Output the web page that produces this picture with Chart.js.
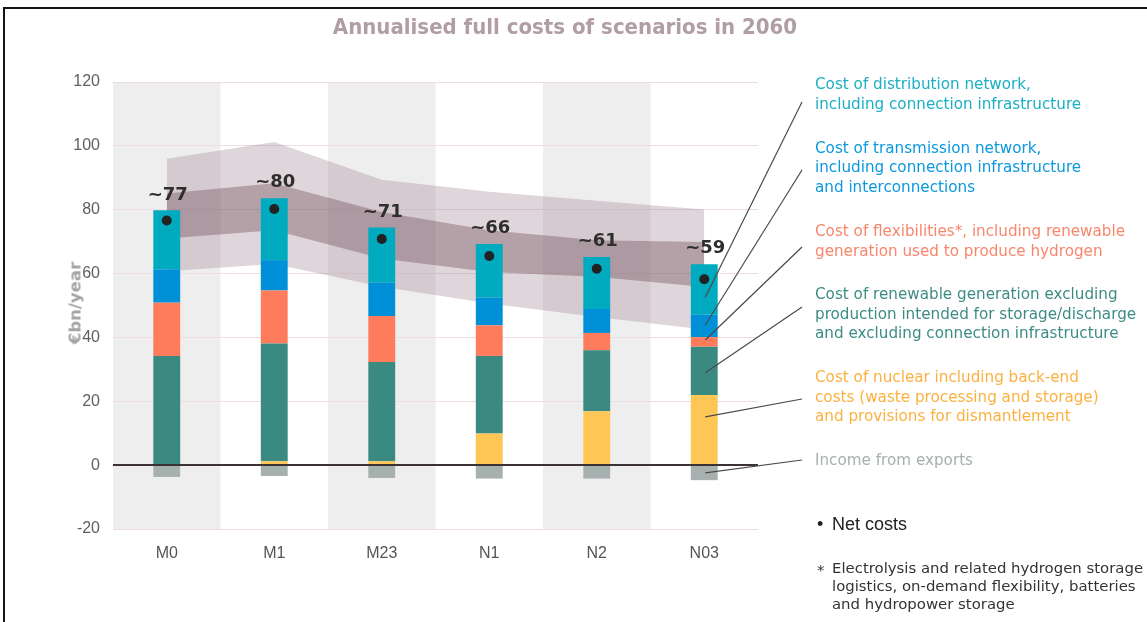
<!DOCTYPE html>
<html>
<head>
<meta charset="utf-8">
<script src="https://cdn.jsdelivr.net/npm/chart.js@4.4.0/dist/chart.umd.min.js"></script>
<style>
  body { margin: 0; background: #fff; }
  #page { position: relative; width: 1147px; height: 622px; overflow: hidden; background: #fff; }
  #frame { position: absolute; left: 3px; top: 7px; width: 1160px; height: 640px; border-left: 2px solid #151515; border-top: 2px solid #151515; pointer-events: none; }
  #chartBox { position: absolute; left: 0; top: 0; width: 1147px; height: 622px; }
  #title { position: absolute; left: 0; width: 1130px; top: 14px; text-align: center; font-family: "DejaVu Sans Condensed", "DejaVu Sans", sans-serif; font-stretch: condensed; font-weight: bold; font-size: 22px; color: #b09ea4; }
  #ytitle { position: absolute; left: 75px; top: 303px; transform: translate(-50%, -50%) rotate(-90deg); font-family: "DejaVu Sans", sans-serif; font-weight: bold; font-size: 16.5px; color: #a3a3a3; white-space: nowrap; }
  .leg { position: absolute; left: 815px; font-family: "DejaVu Sans", Verdana, sans-serif; font-size: 15.2px; line-height: 19.7px; white-space: nowrap; }
  #net { position: absolute; left: 832px; top: 513px; font-family: "Liberation Sans", Arial, sans-serif; font-size: 18px; line-height: 22px; color: #222; }
  #netDot { position: absolute; left: 817px; top: 513px; font-family: "Liberation Sans", Arial, sans-serif; font-size: 18px; line-height: 22px; color: #222; }
  #star { position: absolute; left: 817px; top: 561px; font-family: "DejaVu Sans", sans-serif; font-size: 14.9px; line-height: 18px; color: #333; }
  #foot { position: absolute; left: 832px; top: 558.7px; font-family: "DejaVu Sans", sans-serif; font-size: 14.9px; line-height: 18px; color: #333; white-space: nowrap; }
</style>
</head>
<body>
<div id="page">
  <div id="chartBox"><canvas id="myChart" width="1147" height="622"></canvas></div>
  <div id="title">Annualised full costs of scenarios in 2060</div>
  <div id="ytitle">€bn/year</div>

  <div class="leg" style="top:75px;color:#1aafc3">Cost of distribution network,<br>including connection infrastructure</div>
  <div class="leg" style="top:138.5px;color:#0a98de">Cost of transmission network,<br>including connection infrastructure<br>and interconnections</div>
  <div class="leg" style="top:222px;color:#f8866c">Cost of flexibilities*, including renewable<br>generation used to produce hydrogen</div>
  <div class="leg" style="top:285px;color:#3d8c83">Cost of renewable generation excluding<br>production intended for storage/discharge<br>and excluding connection infrastructure</div>
  <div class="leg" style="top:368px;color:#fbb040">Cost of nuclear including back-end<br>costs (waste processing and storage)<br>and provisions for dismantlement</div>
  <div class="leg" style="top:451px;color:#a7b0af">Income from exports</div>

  <div id="netDot">•</div>
  <div id="net">Net costs</div>
  <div id="star">*</div>
  <div id="foot">Electrolysis and related hydrogen storage<br>logistics, on-demand flexibility, batteries<br>and hydropower storage</div>

  <div id="frame"></div>
</div>

<script>
// Datos (€bn/year)
const categories = ['M0', 'M1', 'M23', 'N1', 'N2', 'N03'];
const nuclear = [0, 1.2, 1.2, 9.9, 16.9, 22.0];
const renewable = [34.2, 36.9, 31.1, 24.3, 19.1, 15.1];
const flexibilities = [16.7, 16.6, 14.4, 9.6, 5.4, 3.0];
const transmission = [10.4, 9.5, 10.4, 8.7, 7.5, 7.0];
const distribution = [18.5, 19.4, 17.3, 16.8, 16.3, 15.8];
const exportsIncome = [-3.7, -3.4, -4.0, -4.2, -4.2, -4.7];
const netCosts = [76.6, 80.2, 70.8, 65.5, 61.5, 58.2];
const netLabels = ['~77', '~80', '~71', '~66', '~61', '~59'];

// Bandas de incertidumbre
const outerHigh = [96.0, 101.2, 89.4, 85.6, 82.8, 80.1];
const outerLow = [60.7, 63.0, 55.9, 50.6, 46.4, 42.5];
const innerHigh = [85.1, 88.3, 79.3, 73.6, 70.4, 69.9];
const innerLow = [71.0, 73.6, 64.7, 60.5, 59.0, 55.8];

// Puntos de llegada de las lineas de la leyenda (sobre la barra N03)
const leaderValues = [52.6, 43.9, 39.2, 28.9, 15.1, -2.4];
const leaderStartY = [102, 170, 247, 307, 399, 460];
const leaderStartX = 802;

const shadedColumns = [0, 2, 4];

const backgroundColumns = {
    id: 'backgroundColumns',
    beforeDraw(chart) {
        const ctx = chart.ctx;
        const x = chart.scales.x;
        const area = chart.chartArea;
        const half = (x.getPixelForValue(1) - x.getPixelForValue(0)) / 2;
        ctx.save();
        ctx.fillStyle = '#efeeef';
        shadedColumns.forEach(i => {
            const cx = x.getPixelForValue(i);
            ctx.fillRect(cx - half, area.top, half * 2, area.bottom - area.top);
        });
        ctx.restore();
    }
};

const overlays = {
    id: 'overlays',
    afterDatasetsDraw(chart) {
        const ctx = chart.ctx;
        const x = chart.scales.x;
        const y = chart.scales.y;
        const area = chart.chartArea;
        ctx.save();

        // Linea de cero
        ctx.strokeStyle = '#3b3236';
        ctx.lineWidth = 2;
        ctx.beginPath();
        ctx.moveTo(area.left, Math.round(y.getPixelForValue(0)));
        ctx.lineTo(area.right, Math.round(y.getPixelForValue(0)));
        ctx.stroke();

        // Etiquetas de coste neto
        ctx.font = 'bold 18px "DejaVu Sans", Verdana, sans-serif';
        ctx.fillStyle = '#2e2e2e';
        ctx.textAlign = 'center';
        ctx.textBaseline = 'middle';
        categories.forEach((c, i) => {
            const top = nuclear[i] + renewable[i] + flexibilities[i] + transmission[i] + distribution[i];
            ctx.fillText(netLabels[i], x.getPixelForValue(i) + 1, y.getPixelForValue(top) - 15.5);
        });

        // Lineas de la leyenda
        const last = categories.length - 1;
        ctx.strokeStyle = '#4a4a4a';
        ctx.lineWidth = 1.2;
        leaderValues.forEach((v, i) => {
            ctx.beginPath();
            ctx.moveTo(leaderStartX, leaderStartY[i]);
            ctx.lineTo(x.getPixelForValue(last) + 1, y.getPixelForValue(v));
            ctx.stroke();
        });
        ctx.restore();
    }
};

function barSet(label, data, color) {
    return {
        type: 'bar',
        label: label,
        data: data,
        backgroundColor: color,
        borderWidth: 0,
        order: 1,
        stack: 'costs'
    };
}

function bandLine(label, data, stack, fill, color, order) {
    return {
        type: 'line',
        label: label,
        data: data,
        stack: stack,
        fill: fill,
        backgroundColor: color,
        borderWidth: 0,
        pointRadius: 0,
        tension: 0,
        order: order
    };
}

const ctx = document.getElementById('myChart').getContext('2d');

const myChart = new Chart(ctx, {
    data: {
        labels: categories,
        datasets: [
            barSet('Nuclear', nuclear, '#fec654'),
            barSet('Renewable', renewable, '#3a8a81'),
            barSet('Flexibilities', flexibilities, '#fe7b5c'),
            barSet('Transmission', transmission, '#0090d7'),
            barSet('Distribution', distribution, '#00aabf'),
            barSet('Exports', exportsIncome, '#a6b0ae'),
            bandLine('Outer high', outerHigh, 'oh', 7, 'rgba(150,120,135,0.30)', 3),
            bandLine('Outer low', outerLow, 'ol', false, 'rgba(0,0,0,0)', 3),
            bandLine('Inner high', innerHigh, 'ih', 9, 'rgba(120,85,95,0.42)', 2),
            bandLine('Inner low', innerLow, 'il', false, 'rgba(0,0,0,0)', 2),
            {
                type: 'line',
                label: 'Net costs',
                data: netCosts,
                stack: 'net',
                showLine: false,
                pointRadius: 5,
                pointBackgroundColor: '#222',
                pointBorderWidth: 0,
                order: 0
            }
        ]
    },
    options: {
        responsive: false,
        maintainAspectRatio: false,
        animation: false,
        layout: {
            padding: { top: 82, right: 389, left: 0, bottom: 0 }
        },
        plugins: {
            legend: { display: false },
            title: { display: false },
            tooltip: { enabled: false }
        },
        scales: {
            x: {
                stacked: true,
                offset: true,
                grid: { display: false, drawTicks: false },
                border: { display: false },
                ticks: {
                    padding: 15,
                    color: '#555',
                    font: { family: 'Liberation Sans', size: 16 }
                },
                afterFit(scale) { scale.height = 93; }
            },
            y: {
                stacked: true,
                min: -20,
                max: 120,
                grid: { color: '#ecdde2', lineWidth: 1, drawTicks: false },
                border: { display: false },
                ticks: {
                    stepSize: 20,
                    padding: 13,
                    color: '#5e5e5e',
                    font: { family: 'Liberation Sans', size: 16 }
                },
                afterFit(scale) { scale.width = 113; }
            }
        },
        datasets: {
            bar: { categoryPercentage: 1, barPercentage: 0.25 }
        }
    },
    plugins: [backgroundColumns, overlays]
});
</script>
</body>
</html>
